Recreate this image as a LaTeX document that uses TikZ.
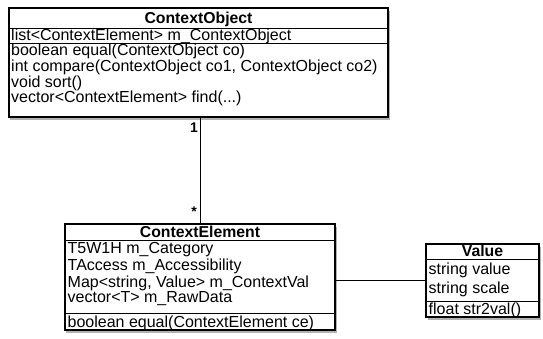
\documentclass[tikz,border=0pt]{standalone}
\usepackage{fontspec}
\setmainfont{Liberation Sans}
\usetikzlibrary{shadows}
\tikzset{
  umlbox/.style={draw=black, line width=1.1bp, fill=white, inner sep=0pt,
    drop shadow={shadow xshift=1.5bp, shadow yshift=-2.5bp, fill=black, opacity=0.3}},
  sep/.style={draw=black, line width=1bp},
  member/.style={anchor=base west, inner sep=0pt, font=\fontsize{16bp}{16bp}\selectfont},
  umltitle/.style={anchor=base, inner sep=0pt, font=\fontsize{15.8bp}{16bp}\selectfont\bfseries},
  assoc/.style={draw=black, line width=1bp},
  mult/.style={inner sep=0pt, font=\fontsize{14bp}{14bp}\selectfont\bfseries}
}
\begin{document}
\begin{tikzpicture}[x=1bp,y=-1bp]
\useasboundingbox[fill=white] (0,0) rectangle (543,338);
% ContextObject
\node[umlbox, minimum width=379bp, minimum height=109bp] (co) at (198.5,62.5) {};
\draw[sep] (9,28) -- (388,28);
\draw[sep] (9,43) -- (388,43);
\node[umltitle] (cot) at (198.5,23) {ContextObject};
\node[member] (co1) at (11,40.5) {list<ContextElement> m\_ContextObject};
\node[member] (co2) at (11,55.5) {boolean equal(ContextObject co)};
\node[member] (co3) at (11,71.5) {int compare(ContextObject co1, ContextObject co2)};
\node[member] (co4) at (11,87) {void sort()};
\node[member] (co5) at (11,102.5) {vector<ContextElement> find(...)};
% ContextElement
\node[umlbox, minimum width=270bp, minimum height=106bp] (ce) at (200,277) {};
\draw[sep] (65,240.5) -- (335,240.5);
\draw[sep] (65,313) -- (335,313);
\node[umltitle] (cet) at (200,237) {ContextElement};
\node[member] (ce1) at (67.5,253.5) {T5W1H m\_Category};
\node[member] (ce2) at (67.5,270.5) {TAccess m\_Accessibility};
\node[member] (ce3) at (67.5,287.5) {Map<string, Value> m\_ContextVal};
\node[member] (ce4) at (67.5,302.5) {vector<T> m\_RawData};
\node[member] (ce5) at (67.5,327) {boolean equal(ContextElement ce)};
% Value
\node[umlbox, minimum width=113bp, minimum height=73bp] (val) at (482.5,280.5) {};
\draw[sep] (426,259) -- (539,259);
\draw[sep] (426,301) -- (539,301);
\node[umltitle] (valt) at (482.5,256.5) {Value};
\node[member] (v1) at (428.5,274.5) {string value};
\node[member] (v2) at (428.5,293) {string scale};
\node[member] (v3) at (428.5,314) {float str2val()};
% associations
\draw[assoc] (co.south -| ce.north) -- (ce.north);
\node[mult] (m1) at (194,128) {1};
\node[mult] (m2) at (194,212) {*};
\draw[assoc] (ce.east |- 0,280) -- (val.west |- 0,280);
\end{tikzpicture}
\end{document}
